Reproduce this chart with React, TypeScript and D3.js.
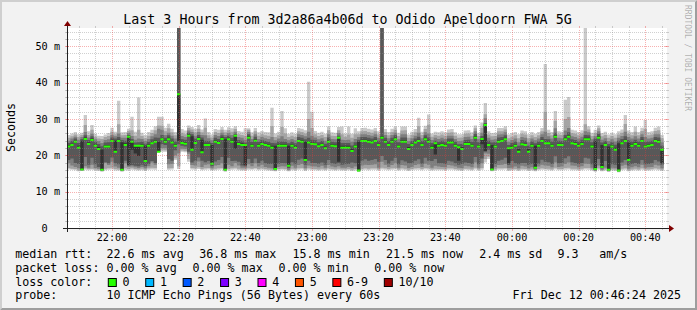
import React from "react";
import * as d3 from "d3";

// ---------- DATA ----------
const medianRtt: number[] = [
  22.4, 22.8, 23.7, 22.1, 16.1, 24.5, 23.1, 24.2, 22.6, 21.7,
  16.0, 22.4, 22.4, 23.9, 21.0, 23.9, 16.0, 22.8, 25.1, 23.7,
  22.6, 22.6, 22.6, 18.4, 22.6, 23.3, 23.7, 21.0, 24.4, 23.7,
  24.4, 23.5, 22.6, 36.8, 23.4, 23.2, 25.4, 21.5, 23.4, 24.5,
  20.8, 22.8, 22.8, 17.7, 23.7, 23.4, 24.5, 16.0, 24.4, 23.7,
  25.4, 23.1, 22.8, 22.8, 24.8, 22.6, 24.0, 22.6, 23.1, 22.8,
  22.6, 22.1, 16.2, 22.6, 22.6, 22.6, 17.1, 22.6, 22.1, 23.9,
  23.7, 18.7, 23.5, 23.1, 23.0, 22.5, 22.8, 21.9, 23.7, 22.6,
  22.5, 24.8, 22.1, 22.1, 22.1, 21.2, 22.4, 15.8, 23.9, 23.9,
  23.7, 23.5, 23.9, 22.8, 24.8, 23.7, 22.8, 23.7, 24.4, 22.4,
  23.7, 23.7, 21.7, 22.8, 23.5, 23.9, 22.8, 24.4, 23.7, 22.1,
  23.3, 22.6, 22.8, 22.6, 23.5, 23.5, 22.6, 22.2, 21.7, 23.1,
  23.1, 22.6, 24.8, 22.4, 24.5, 28.3, 22.8, 16.1, 22.4, 23.7,
  23.9, 24.4, 21.9, 22.1, 22.6, 21.0, 23.0, 22.8, 21.0, 22.6,
  16.6, 22.6, 23.9, 23.3, 23.3, 22.6, 25.1, 22.8, 22.8, 24.4,
  25.1, 23.3, 23.1, 22.6, 23.1, 24.4, 24.4, 22.4, 16.2, 24.8,
  16.8, 22.8, 16.0, 22.4, 21.5, 15.8, 23.3, 23.9, 18.7, 22.6,
  23.1, 22.6, 23.9, 22.4, 22.6, 22.8, 23.9, 23.7, 21.5,
];

// 10 sorted ping RTTs (ms) per 60 s step
const pingsHour1: number[][] = [
  [16.1,16.5,17.8,18.7,22.2,22.8,23.4,24.0,24.8,25.6],
  [16.0,16.3,17.2,19.1,22.6,23.2,23.9,24.6,25.2,26.0],
  [15.9,16.2,16.8,17.9,23.5,24.0,24.6,25.1,25.7,26.4],
  [15.6,15.9,16.4,17.6,21.9,22.6,23.4,24.3,25.0,25.8],
  [15.7,15.8,15.9,16.0,16.1,24.0,24.5,25.0,25.6,26.2],
  [16.0,16.4,17.0,19.5,24.3,24.9,25.5,26.4,28.3,31.1],
  [15.9,16.2,16.6,17.4,22.9,23.6,24.2,24.9,25.6,26.6],
  [16.0,16.3,17.4,19.3,24.0,24.6,25.2,25.9,27.0,28.3],
  [15.8,16.1,16.5,17.5,22.4,23.0,23.7,24.4,25.1,25.9],
  [15.7,16.0,16.3,16.8,21.5,22.3,23.1,23.9,24.6,25.4],
  [15.5,15.7,15.8,15.9,16.0,21.6,22.5,23.4,24.5,25.3],
  [15.9,16.3,17.9,18.1,22.2,22.8,23.5,24.2,25.0,25.7],
  [16.0,16.4,17.3,17.8,22.2,22.8,23.6,24.4,25.3,26.1],
  [16.1,16.6,18.2,19.4,23.7,24.3,24.9,25.6,26.5,27.6],
  [15.8,16.2,16.9,17.8,21.0,24.0,24.6,25.2,25.8,26.5],
  [15.8,16.1,16.6,17.5,23.7,24.3,25.0,26.0,28.5,35.0],
  [15.5,15.7,15.8,15.9,16.0,23.6,24.2,24.8,25.5,26.3],
  [15.9,16.4,17.8,18.5,22.6,23.3,24.0,24.8,25.6,26.4],
  [15.8,16.2,16.8,17.1,17.3,25.1,25.6,26.1,26.7,27.3],
  [16.0,16.4,16.9,17.3,21.5,23.9,24.5,25.3,26.9,30.6],
  [15.9,16.2,16.7,17.1,20.5,22.8,23.5,24.3,25.4,26.5],
  [15.8,16.1,16.5,17.0,19.8,22.8,23.6,24.6,27.0,35.9],
  [15.9,16.3,16.8,17.4,22.4,23.0,23.7,24.5,25.3,26.2],
  [15.7,16.0,16.4,17.0,18.4,22.6,23.2,23.9,24.7,25.6],
  [16.0,16.4,17.0,17.6,22.4,23.0,23.7,24.5,25.4,26.4],
  [16.1,16.6,18.0,18.4,23.1,23.7,24.4,25.2,26.1,27.0],
  [16.0,16.5,17.4,17.9,23.5,24.1,24.9,25.8,26.9,28.0],
  [20.8,20.9,21.0,21.0,21.0,23.7,24.8,27.3,28.2,30.6],
  [21.0,21.5,22.0,23.0,24.2,24.7,25.6,27.0,28.1,30.6],
  [21.0,21.4,22.0,22.8,23.5,24.1,24.8,25.6,26.6,27.6],
  [16.0,16.4,17.5,19.0,24.2,24.8,25.5,26.2,27.4,28.7],
  [16.1,16.5,17.6,18.5,23.3,23.9,24.6,25.4,26.3,27.3],
  [18.7,19.2,20.0,21.4,22.4,23.0,23.8,24.6,25.5,26.4],
  [16.2,17.0,20.5,23.0,24.0,36.8,56.0,57.0,58.0,60.0],
  [21.0,21.3,21.8,22.6,23.2,23.8,24.5,25.3,26.2,27.2],
  [20.8,21.2,21.7,22.4,23.0,23.6,24.3,25.0,25.8,26.8],
  [18.2,19.0,20.4,21.0,25.2,25.7,26.2,26.8,27.5,28.2],
  [16.1,16.5,17.3,18.0,21.5,25.2,25.8,26.4,27.1,27.8],
  [16.0,16.4,17.2,18.5,23.2,23.8,24.6,25.4,26.3,27.3],
  [16.2,16.7,18.3,19.4,24.3,24.9,25.6,26.4,27.3,28.3],
  [15.9,16.2,16.8,18.5,20.8,24.3,24.9,25.6,26.3,27.1],
  [16.0,16.4,17.4,18.1,22.6,23.2,24.0,25.5,27.6,30.1],
  [16.1,16.5,17.5,18.4,22.6,23.2,23.9,24.7,25.5,26.4],
  [15.8,16.0,16.4,17.0,17.7,22.8,23.4,24.1,24.9,25.7],
  [15.9,16.3,17.2,18.3,23.5,24.1,24.8,25.6,26.4,27.2],
  [16.0,16.4,17.3,18.7,23.2,23.8,24.5,25.3,26.1,27.0],
  [16.1,16.5,17.8,19.5,24.3,24.9,25.5,26.2,27.0,27.8],
  [15.5,15.7,15.8,15.9,16.0,24.4,25.0,25.6,26.3,27.0],
  [15.9,16.3,17.4,19.3,24.2,24.8,25.4,26.1,26.9,27.7],
  [16.0,16.4,17.0,18.4,23.5,24.1,24.8,25.6,26.5,27.4],
  [16.1,16.6,17.9,18.5,21.8,25.4,25.9,26.5,27.2,28.0],
  [15.9,16.3,17.2,18.2,22.9,23.5,24.2,25.0,25.8,26.7],
  [15.8,16.1,16.6,17.2,22.6,23.3,24.0,24.8,25.6,26.5],
  [15.8,16.1,16.6,17.0,17.3,22.8,23.5,24.3,25.4,27.4],
  [16.0,16.4,17.5,19.0,24.6,25.2,25.8,26.4,27.0,27.4],
  [16.0,16.3,17.0,17.9,22.4,23.0,23.7,24.5,25.4,26.3],
  [16.1,16.5,17.8,19.1,23.8,24.4,25.1,25.8,26.6,27.5],
  [15.9,16.2,16.9,17.9,22.4,23.0,23.7,24.5,25.4,26.3],
  [16.0,16.4,17.4,18.5,22.9,23.5,24.2,25.0,25.8,26.7],
  [15.9,16.2,16.8,17.8,22.6,23.2,23.9,24.7,25.5,26.4],
];

const pingsHour2: number[][] = [
  [15.8,16.1,16.6,17.6,22.4,23.0,23.7,24.5,25.4,26.3],
  [15.7,16.0,16.4,17.6,21.9,22.6,23.4,25.0,28.0,33.1],
  [15.6,15.8,15.9,16.0,16.2,22.6,23.3,24.1,25.0,26.0],
  [15.9,16.2,16.8,17.7,22.4,23.0,23.8,24.6,25.5,26.5],
  [16.0,16.3,17.0,17.9,22.4,23.0,23.8,25.2,27.8,32.2],
  [15.9,16.2,16.9,17.8,22.4,23.0,23.7,24.5,26.0,27.4],
  [15.6,15.8,16.0,16.5,17.1,22.6,23.3,24.1,25.0,25.9],
  [15.9,16.3,17.1,18.1,22.4,23.0,23.7,24.5,25.4,26.3],
  [15.8,16.1,16.6,17.5,21.9,22.6,23.3,24.1,25.0,25.9],
  [16.0,16.4,17.3,18.8,23.7,24.3,25.0,25.8,26.6,27.5],
  [16.1,16.5,17.6,19.1,23.5,24.1,24.8,25.6,26.4,27.3],
  [15.7,16.0,16.4,17.4,18.7,23.7,24.4,25.2,26.0,26.9],
  [16.0,16.4,17.2,18.5,23.3,23.9,24.8,26.5,30.0,40.2],
  [15.9,16.3,17.0,17.9,22.9,23.5,24.3,25.4,27.5,32.0],
  [15.9,16.2,16.9,17.9,22.8,23.4,24.1,24.9,25.8,26.7],
  [15.8,16.1,16.7,17.7,22.3,22.9,23.6,24.4,25.3,26.2],
  [15.9,16.3,17.1,18.0,22.6,23.2,23.9,24.7,25.6,26.5],
  [15.8,16.1,16.6,17.4,21.7,22.4,23.2,24.0,25.0,25.9],
  [16.0,16.4,17.3,18.7,23.5,24.1,24.9,25.8,26.9,27.9],
  [15.9,16.2,16.9,17.8,22.4,23.0,23.7,24.5,25.4,26.3],
  [15.8,16.1,16.7,17.6,22.3,22.9,23.6,24.4,25.3,26.2],
  [15.9,16.3,17.0,17.8,18.2,24.8,25.4,26.1,26.9,27.8],
  [15.8,16.1,16.6,17.4,21.9,22.6,23.4,24.3,25.8,27.9],
  [15.8,16.1,16.6,17.5,21.9,22.6,23.4,24.2,25.1,26.0],
  [15.9,16.2,16.8,17.6,21.9,22.6,23.4,24.3,25.7,27.9],
  [15.7,16.0,16.5,18.0,21.0,21.8,22.7,23.7,24.8,25.9],
  [15.8,16.2,16.9,17.8,22.2,22.8,23.6,24.5,25.8,27.4],
  [15.4,15.6,15.7,15.8,15.8,23.7,24.3,25.0,25.8,26.6],
  [15.9,16.3,17.2,18.5,23.7,24.3,25.0,25.8,26.6,27.5],
  [16.0,16.4,17.4,18.9,23.7,24.3,25.0,25.8,26.7,27.6],
  [15.9,16.3,17.3,18.5,23.5,24.1,24.8,25.6,26.4,27.3],
  [16.0,16.4,17.4,18.7,23.3,23.9,24.6,25.4,26.2,27.1],
  [16.0,16.4,17.5,19.0,23.7,24.3,25.0,25.8,26.6,27.5],
  [15.8,16.1,16.6,18.2,22.6,23.2,24.0,24.8,25.7,26.6],
  [16.1,16.6,18.2,19.8,24.6,25.2,56.0,57.0,58.0,60.0],
  [16.0,16.4,17.4,18.7,23.5,24.1,24.8,25.6,26.4,27.2],
  [15.9,16.2,16.8,17.7,22.6,23.2,23.9,24.7,25.5,26.4],
  [16.0,16.4,17.3,18.5,23.5,24.1,24.8,25.6,26.4,27.3],
  [16.1,16.5,17.8,19.3,24.2,24.8,25.5,26.2,27.0,27.9],
  [15.8,16.1,16.6,17.5,22.2,22.8,23.6,24.4,25.3,26.2],
  [16.0,16.4,17.3,18.6,23.5,24.1,24.9,25.8,26.8,27.9],
  [15.9,16.3,17.2,18.3,23.5,24.1,24.9,25.8,26.9,27.9],
  [15.7,16.0,16.5,17.8,21.5,22.3,23.1,23.9,24.8,25.7],
  [15.9,16.2,16.8,17.8,22.6,23.2,23.9,24.7,25.6,26.5],
  [16.0,16.4,17.3,18.5,23.3,23.9,24.6,25.4,26.3,27.2],
  [16.0,16.5,17.5,18.9,23.7,24.3,25.1,26.2,28.0,30.3],
  [15.9,16.2,16.8,17.7,22.6,23.2,23.9,24.7,25.6,26.5],
  [16.1,16.5,17.7,19.3,24.2,24.8,25.5,26.3,27.2,28.1],
  [16.0,16.4,17.4,18.5,23.5,24.1,24.9,26.0,28.4,31.2],
  [15.8,16.1,16.6,18.4,21.9,22.6,23.4,24.2,25.1,26.0],
  [15.9,16.3,17.1,19.0,20.2,23.3,24.0,24.8,25.6,26.5],
  [15.9,16.2,16.9,17.8,22.4,23.0,23.7,24.5,25.4,26.3],
  [15.9,16.2,16.8,17.8,22.6,23.2,24.0,24.8,25.7,26.6],
  [15.8,16.1,16.7,17.6,22.4,23.0,23.7,24.5,25.4,26.3],
  [16.0,16.4,17.3,18.5,23.3,23.9,24.6,25.4,26.2,27.1],
  [16.0,16.4,17.2,18.3,23.3,23.9,24.6,25.4,26.3,27.2],
  [15.9,16.2,16.9,17.8,22.4,23.0,23.7,24.5,25.4,26.3],
  [15.8,16.1,16.6,17.4,18.5,22.2,23.0,23.9,24.8,25.8],
  [15.7,16.0,16.5,17.6,21.5,22.3,23.1,24.0,24.9,25.8],
  [16.0,16.3,17.1,18.0,22.9,23.5,24.2,25.0,25.9,26.8],
];

const pingsHour3: number[][] = [
  [15.9,16.3,17.0,17.9,22.9,23.5,24.3,25.1,26.0,26.9],
  [15.8,16.1,16.7,17.6,22.4,23.0,23.7,24.5,25.4,26.3],
  [16.1,16.6,18.0,19.5,24.6,25.2,25.9,26.6,27.4,28.2],
  [15.8,16.1,16.6,17.5,22.2,22.8,23.6,24.4,25.3,26.2],
  [16.0,16.5,17.8,19.1,23.0,24.6,25.3,26.2,27.6,29.0],
  [18.0,19.0,20.5,21.0,21.2,28.5,28.9,30.2,31.3,34.4],
  [19.0,19.6,20.4,21.5,22.6,23.2,24.0,24.8,25.7,26.6],
  [15.6,15.8,15.9,16.0,16.1,22.8,23.5,24.3,25.2,26.1],
  [15.8,16.1,16.7,17.6,22.2,22.8,23.6,24.4,25.3,26.2],
  [16.0,16.4,17.3,18.5,23.5,24.1,24.9,25.7,26.6,27.5],
  [16.0,16.4,17.4,18.8,23.7,24.3,25.0,25.8,26.6,27.5],
  [16.1,16.5,17.6,19.3,24.2,24.8,25.5,26.3,27.1,28.0],
  [15.7,16.0,16.5,17.3,17.8,22.0,22.8,23.7,24.7,25.7],
  [15.8,16.1,16.6,18.4,21.9,22.6,23.4,24.2,25.1,26.1],
  [15.9,16.2,16.9,17.8,22.4,23.0,23.8,24.6,25.5,26.4],
  [15.7,16.0,16.4,17.5,20.8,21.7,22.6,23.6,24.7,25.8],
  [15.9,16.3,17.1,17.9,22.8,23.4,24.2,25.0,25.9,26.8],
  [15.9,16.2,16.9,17.9,22.6,23.2,24.0,24.8,25.7,26.6],
  [15.7,16.0,16.4,17.4,20.8,21.7,22.6,23.6,24.7,25.8],
  [15.8,16.1,16.7,17.6,22.4,23.0,23.8,24.6,25.5,26.4],
  [15.6,15.8,16.0,16.3,16.6,22.6,23.3,24.1,25.0,25.9],
  [15.9,16.2,16.9,17.7,22.4,23.0,23.8,24.6,25.5,26.4],
  [16.0,16.4,17.4,18.8,23.7,24.3,25.0,25.8,26.6,27.5],
  [16.0,16.3,17.2,18.2,23.1,23.7,24.5,26.5,32.0,45.1],
  [15.9,16.3,17.1,18.1,23.1,23.7,24.4,25.2,26.1,27.0],
  [15.8,16.1,16.7,17.6,22.4,23.0,23.8,24.6,25.5,26.4],
  [16.1,16.6,18.0,19.7,24.9,25.5,26.2,27.4,29.5,32.2],
  [15.9,16.2,16.8,17.8,22.6,23.2,24.0,24.8,25.7,26.6],
  [15.9,16.2,16.9,17.9,22.6,23.2,23.9,24.7,25.6,26.5],
  [16.0,16.5,17.6,19.2,24.2,24.8,25.6,26.8,30.0,35.3],
  [16.1,16.6,18.0,19.7,24.9,25.5,26.3,27.5,30.5,36.0],
  [15.9,16.3,17.2,18.1,23.1,23.7,24.4,25.2,26.1,27.0],
  [15.9,16.3,17.1,17.9,22.9,23.5,24.2,25.0,25.9,26.8],
  [15.8,16.1,16.7,17.6,22.4,23.0,23.8,24.6,25.5,26.4],
  [15.9,16.3,17.0,17.9,22.9,23.5,24.3,25.1,26.0,26.9],
  [16.1,16.5,17.7,19.3,24.2,24.8,25.6,26.6,28.5,57.0],
  [16.0,16.5,17.6,19.1,24.2,24.8,25.5,26.3,27.1,28.0],
  [15.8,16.1,16.6,17.5,22.2,22.8,23.6,24.4,25.3,26.2],
  [15.5,15.7,15.8,15.9,16.2,24.0,24.6,25.3,26.1,27.0],
  [16.0,16.4,17.2,19.0,24.6,25.2,25.9,26.6,27.4,28.2],
  [15.6,15.8,16.0,16.4,16.8,22.8,23.5,24.3,25.2,26.1],
  [15.8,16.1,16.6,18.4,22.6,23.2,23.9,24.7,25.6,26.5],
  [15.4,15.6,15.8,15.9,16.0,22.4,23.1,23.9,24.8,25.7],
  [15.8,16.1,16.6,17.5,22.2,22.8,23.6,24.4,25.3,26.2],
  [15.7,16.0,16.4,17.4,21.3,22.1,22.9,23.8,24.8,25.8],
  [15.3,15.5,15.6,15.7,15.8,23.3,24.0,24.8,25.7,26.6],
  [15.9,16.3,17.1,18.0,23.1,23.7,24.5,25.3,26.2,27.1],
  [16.0,16.4,17.4,18.7,23.7,24.3,25.2,26.5,28.6,31.1],
  [15.6,15.9,16.3,17.2,18.7,23.5,24.2,25.0,25.9,26.8],
  [15.8,16.1,16.7,17.6,22.4,23.0,23.8,24.6,25.5,26.4],
  [15.9,16.3,17.0,17.9,22.9,23.5,24.3,25.2,26.5,27.9],
  [15.8,16.1,16.7,17.6,22.4,23.0,23.8,24.6,25.5,26.4],
  [16.0,16.4,17.4,18.7,23.7,24.3,25.0,25.8,26.7,27.6],
  [15.8,16.1,16.6,17.5,22.2,22.8,23.7,25.0,27.2,29.7],
  [15.8,16.1,16.7,17.6,22.4,23.0,23.8,24.6,25.5,26.4],
  [15.9,16.2,16.8,17.8,22.6,23.2,24.0,24.8,25.7,26.6],
  [16.0,16.4,17.4,18.7,23.7,24.3,25.0,25.8,26.7,27.6],
  [15.9,16.3,17.2,18.3,23.5,24.1,24.9,25.8,26.9,27.9],
  [15.7,16.0,16.4,17.4,17.8,21.5,22.6,23.6,24.7,25.6],
];

const titleText = "Last 3 Hours from 3d2a86a4b06d to Odido Apeldoorn FWA 5G";
const yAxisTitle = "Seconds";
const yTickValues = [0, 10, 20, 30, 40, 50];
const yTickNumbers = ["0", "10", "20", "30", "40", "50"];
const yTickUnits = ["", "m", "m", "m", "m", "m"];
const rttLegend = ["median rtt:", "22.6 ms avg", "36.8 ms max", "15.8 ms min", "21.5 ms now", "2.4 ms sd", "9.3", "am/s"];
const lossLegend = ["packet loss:", "0.00 % avg", "0.00 % max", "0.00 % min", "0.00 % now"];
const lossColorTitle = "loss color:";
const lossLabels = ["0", "1", "2", "3", "4", "5", "6-9", "10/10"];
const lossColors = ["#26ff00", "#00b8ff", "#0059ff", "#7e00ff", "#ff00ff", "#ff5500", "#ff0000", "#a00000"];
const probeLegend = ["probe:", "10 ICMP Echo Pings (56 Bytes) every 60s"];
const dateText = "Fri Dec 12 00:46:24 2025";
const watermark = "RRDTOOL / TOBI OETIKER";

// ---------- LAYOUT ----------
const W = 697, H = 310;
const X0 = 67, X1 = 667, Y0 = 228, Y1 = 28;
const startTime = new Date(Date.UTC(2025, 11, 11, 21, 46, 30));
const endTime = new Date(Date.UTC(2025, 11, 12, 0, 46, 30));
const stepMs = 60000;
const smokeColors = ["#cacaca", "#a4a4a4", "#7e7e7e", "#585858", "#323232"];
const FONT = "'DejaVu Sans Mono', monospace";
const legendFs = 11.67;
const charW = legendFs * 0.602;
const rttX = [15.2, 106.5, 199.2, 292.5, 385.9, 479.2, 557.5, 599.3];
const lossX = [15.2, 106.5, 192.5, 278.5, 374.2];
const rowY = [257.7, 271.7, 285.7, 299.3];

export default function App() {
  React.useEffect(() => {
    document.body.style.margin = "0";
  }, []);

  const pings = [...pingsHour1, ...pingsHour2, ...pingsHour3];
  const n = pings.length;
  const x = d3.scaleUtc().domain([startTime, endTime]).range([X0, X1]);
  const y = d3.scaleLinear().domain([0, 55]).range([Y0, Y1]);
  const t = (i: number) => new Date(startTime.getTime() + i * stepMs);
  const idx = d3.range(n + 1);
  const at = (i: number) => Math.min(i, n - 1);

  const bandPaths = smokeColors.map((c, b) =>
    d3
      .area<number>()
      .curve(d3.curveStepAfter)
      .x((i) => x(t(i)))
      .y0((i) => y(pings[at(i)][b]))
      .y1((i) => y(pings[at(i)][9 - b]))(idx) as string
  );
  const medPath = d3
    .area<number>()
    .curve(d3.curveStepAfter)
    .x((i) => x(t(i)))
    .y0((i) => y(medianRtt[at(i)]) + 1)
    .y1((i) => y(medianRtt[at(i)]) - 1)(idx) as string;

  const majorT = d3.utcMinute.every(20)!.range(startTime, endTime);
  const minorT = d3.utcMinute
    .every(5)!
    .range(startTime, endTime)
    .filter((d) => d.getUTCMinutes() % 20 !== 0);
  const majorV = [10, 20, 30, 40, 50];
  const minorV = d3.range(2, 56, 2).filter((v) => v % 10 !== 0);
  const fmt = d3.utcFormat("%H:%M");
  const px = (v: number) => Math.round(v) + 0.5;

  const gridMinor = "rgba(143,143,143,0.42)";
  const gridMajor = "rgba(235,60,60,0.4)";

  const boxXs: number[] = [];
  let bx = 108.3;
  lossLabels.forEach((l) => {
    boxXs.push(bx);
    bx = bx + 14.2 + charW * l.length + 16.2;
  });

  return (
    <svg
      width={W}
      height={H}
      style={{ position: "absolute", left: 0, top: 0, display: "block" }}
      fontFamily={FONT}
    >
      <rect x={0} y={0} width={W} height={H} fill="#f2f2f2" />
      <polygon points={`0,${H} 2,${H - 2} 2,2 ${W - 2},2 ${W},0 0,0`} fill="#cfcfcf" />
      <polygon points={`2,${H - 2} ${W - 2},${H - 2} ${W - 2},2 ${W},0 ${W},${H} 0,${H}`} fill="#9e9e9e" />
      <rect x={X0} y={Y1} width={X1 - X0} height={Y0 - Y1} fill="#ffffff" />

      <defs>
        <clipPath id="plotClip">
          <rect x={X0} y={Y1} width={X1 - X0} height={Y0 - Y1} />
        </clipPath>
      </defs>

      <g clipPath="url(#plotClip)">
        {bandPaths.map((d, i) => (
          <path key={i} d={d} fill={smokeColors[i]} />
        ))}
        <path d={medPath} fill={lossColors[0]} />
      </g>

      {/* grid */}
      <g shapeRendering="crispEdges">
        {minorV.map((v) => {
          const yy = px(y(v));
          return (
            <g key={"mv" + v}>
              <line x1={X0 - 2} x2={X0} y1={yy} y2={yy} stroke={gridMinor} />
              <line x1={X1} x2={X1 + 2} y1={yy} y2={yy} stroke={gridMinor} />
              <line x1={X0 - 1} x2={X1 + 1} y1={yy} y2={yy} stroke={gridMinor} strokeDasharray="1 1" />
            </g>
          );
        })}
        {minorT.map((d) => {
          const xx = px(x(d));
          return (
            <g key={"mt" + d.getTime()}>
              <line x1={xx} x2={xx} y1={Y1 - 2} y2={Y1} stroke={gridMinor} />
              <line x1={xx} x2={xx} y1={Y0} y2={Y0 + 2} stroke={gridMinor} />
              <line x1={xx} x2={xx} y1={Y0 - 1} y2={Y1 + 1} stroke={gridMinor} strokeDasharray="1 1" />
            </g>
          );
        })}
        {majorV.map((v) => {
          const yy = px(y(v));
          return (
            <g key={"Mv" + v}>
              <line x1={X0 - 2} x2={X0 + 2} y1={yy} y2={yy} stroke={gridMajor} />
              <line x1={X1 - 2} x2={X1 + 2} y1={yy} y2={yy} stroke={gridMajor} />
              <line x1={X0 - 1} x2={X1 + 1} y1={yy} y2={yy} stroke={gridMajor} strokeDasharray="1 1" />
            </g>
          );
        })}
        {majorT.map((d) => {
          const xx = px(x(d));
          return (
            <g key={"Mt" + d.getTime()}>
              <line x1={xx} x2={xx} y1={Y1 - 2} y2={Y1} stroke={gridMajor} />
              <line x1={xx} x2={xx} y1={Y0} y2={Y0 + 3} stroke={gridMajor} />
              <line x1={xx} x2={xx} y1={Y0 - 1} y2={Y1 + 1} stroke={gridMajor} strokeDasharray="1 1" />
            </g>
          );
        })}
      </g>

      {/* axes */}
      <g shapeRendering="crispEdges">
        <line x1={X0 - 4} x2={X1 + 4} y1={Y0 + 0.5} y2={Y0 + 0.5} stroke="#212121" />
        <line x1={X0 + 0.5} x2={X0 + 0.5} y1={Y0 + 4} y2={Y1 - 4} stroke="#212121" />
      </g>
      <polygon points={`${X1 + 2},${Y0 - 3} ${X1 + 2},${Y0 + 4} ${X1 + 7},${Y0 + 0.5}`} fill="#800000" />
      <polygon points={`${X0 - 3},${Y1 - 2} ${X0 + 4},${Y1 - 2} ${X0 + 0.5},${Y1 - 7}`} fill="#800000" />

      {/* y tick labels */}
      {yTickValues.map((v, i) => (
        <g key={"yl" + v} fontSize={10.2} fill="#000">
          <text x={47.7} y={y(v) + 3.7} textAnchor="end">
            {yTickNumbers[i]}
          </text>
          {yTickUnits[i] && (
            <text x={53.9} y={y(v) + 3.7}>
              {yTickUnits[i]}
            </text>
          )}
        </g>
      ))}

      {/* x tick labels */}
      {majorT.map((d) => (
        <text key={"xl" + d.getTime()} x={x(d)} y={240.7} fontSize={10.2} textAnchor="middle" fill="#000">
          {fmt(d)}
        </text>
      ))}

      <text x={347.5} y={24} fontSize={13.3} textAnchor="middle" fill="#000">
        {titleText}
      </text>

      <text transform="translate(14.6,127.5) rotate(-90)" fontSize={legendFs} textAnchor="middle" fill="#000">
        {yAxisTitle}
      </text>

      <text transform="translate(684.6,5) rotate(90)" fontSize={8} fill="#000" fillOpacity={0.3}>
        {watermark}
      </text>

      <g fontSize={legendFs} fill="#000">
        {rttLegend.map((s, i) => (
          <text key={"r" + i} x={rttX[i]} y={rowY[0]}>
            {s}
          </text>
        ))}
        {lossLegend.map((s, i) => (
          <text key={"l" + i} x={lossX[i]} y={rowY[1]}>
            {s}
          </text>
        ))}
        <text x={15.2} y={rowY[2]}>
          {lossColorTitle}
        </text>
        {lossLabels.map((l, i) => (
          <g key={"lc" + i}>
            <rect x={boxXs[i]} y={rowY[2] - 7.2} width={8} height={8} fill={lossColors[i]} stroke="#000" strokeWidth={1} />
            <text x={boxXs[i] + 14.2} y={rowY[2]}>
              {l}
            </text>
          </g>
        ))}
        <text x={15.2} y={rowY[3]}>
          {probeLegend[0]}
        </text>
        <text x={106.5} y={rowY[3]}>
          {probeLegend[1]}
        </text>
        <text x={681} y={rowY[3]} textAnchor="end">
          {dateText}
        </text>
      </g>
    </svg>
  );
}
